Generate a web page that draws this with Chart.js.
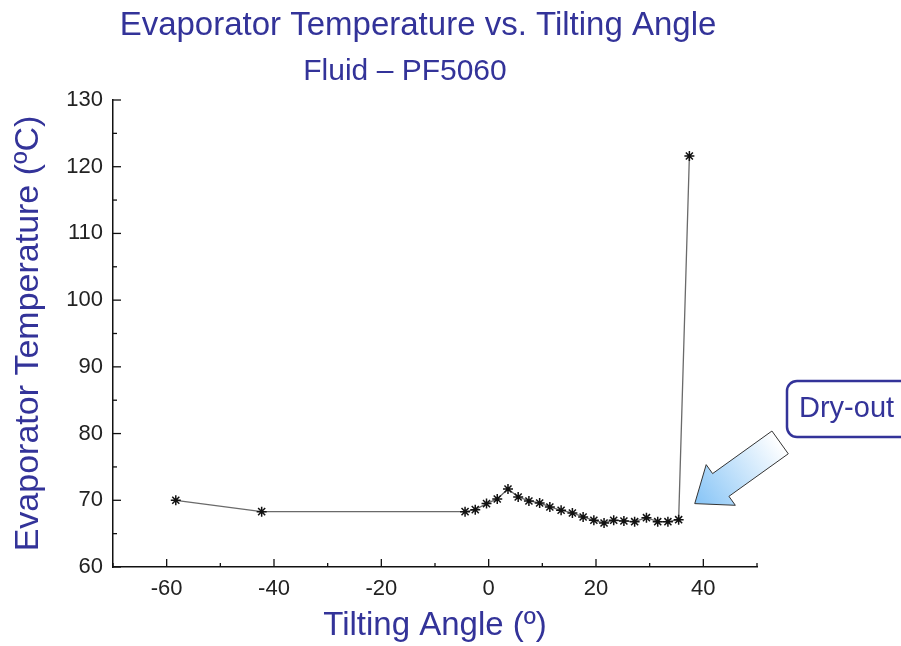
<!DOCTYPE html>
<html>
<head>
<meta charset="utf-8">
<script src="https://cdn.jsdelivr.net/npm/chart.js@4/dist/chart.umd.min.js"></script>
<style>
  body { margin: 0; background: #fff; }
  #wrap { width: 901px; height: 646px; position: relative; }
</style>
</head>
<body>
<div id="wrap"><canvas id="evap"></canvas></div>
<script>
// tilting angle (deg) and evaporator temperature (C)
const angles = [-58.3, -42.3, -4.4, -2.5, -0.4, 1.6, 3.6, 5.5, 7.5, 9.5, 11.4, 13.5, 15.6, 17.6, 19.6, 21.5, 23.3, 25.2, 27.2, 29.4, 31.5, 33.4, 35.4, 37.4];
const temps = [70.0, 68.3, 68.3, 68.6, 69.5, 70.2, 71.7, 70.5, 69.9, 69.6, 69.0, 68.5, 68.1, 67.5, 67.0, 66.6, 67.0, 66.9, 66.8, 67.4, 66.8, 66.8, 67.1, 121.6];

const xTicks = [-60, -40, -20, 0, 20, 40];
const yTicks = [60, 70, 80, 90, 100, 110, 120, 130];

const navy = "#333399";
const font = "'Liberation Sans', Arial, sans-serif";

// inward tick marks (major + minor), headings and the dry-out callout
const extras = {
    id: "extras",
    afterDraw(chart) {
        const ctx = chart.ctx;
        const xs = chart.scales.x, ys = chart.scales.y;
        const area = chart.chartArea;
        ctx.save();
        ctx.strokeStyle = "#111";
        ctx.lineWidth = 1.3;
        for (let v = -70; v <= 50; v += 10) {
            const px = xs.getPixelForValue(v);
            const len = xTicks.includes(v) ? 8 : 4;
            ctx.beginPath();
            ctx.moveTo(px, area.bottom);
            ctx.lineTo(px, area.bottom - len);
            ctx.stroke();
        }
        for (let v = 60; v <= 130; v += 5) {
            const py = ys.getPixelForValue(v);
            const len = yTicks.includes(v) ? 8 : 4;
            ctx.beginPath();
            ctx.moveTo(area.left, py);
            ctx.lineTo(area.left + len, py);
            ctx.stroke();
        }

        // headings
        ctx.fillStyle = navy;
        ctx.textAlign = "center";
        ctx.textBaseline = "middle";
        ctx.font = "33px " + font;
        ctx.fillText("Evaporator Temperature vs. Tilting Angle", 418, 26);
        ctx.font = "30px " + font;
        ctx.fillText("Fluid \u2013 PF5060", 405, 72);

        // dry-out box
        ctx.lineWidth = 2.5;
        ctx.strokeStyle = navy;
        ctx.beginPath();
        ctx.roundRect(787, 381, 130, 56, 10);
        ctx.fillStyle = "#fff";
        ctx.fill();
        ctx.stroke();
        ctx.fillStyle = navy;
        ctx.textAlign = "left";
        ctx.font = "29px " + font;
        ctx.fillText("Dry-out", 799, 409);

        // arrow pointing at the spike base
        const tx = xs.getPixelForValue(38.4), ty = ys.getPixelForValue(69.5);
        const dx = -0.813, dy = 0.583;       // tail -> tip direction
        const nx = 0.583, ny = 0.813;        // perpendicular
        const headLen = 32, headHalf = 25, shaftHalf = 14, total = 105;
        const bx = tx - dx * headLen, by = ty - dy * headLen;
        const cx = tx - dx * total, cy = ty - dy * total;
        const grad = ctx.createLinearGradient(tx, ty, cx, cy);
        grad.addColorStop(0, "#86c4f6");
        grad.addColorStop(1, "#ffffff");
        ctx.beginPath();
        ctx.moveTo(tx, ty);
        ctx.lineTo(bx + nx * headHalf, by + ny * headHalf);
        ctx.lineTo(bx + nx * shaftHalf, by + ny * shaftHalf);
        ctx.lineTo(cx + nx * shaftHalf, cy + ny * shaftHalf);
        ctx.lineTo(cx - nx * shaftHalf, cy - ny * shaftHalf);
        ctx.lineTo(bx - nx * shaftHalf, by - ny * shaftHalf);
        ctx.lineTo(bx - nx * headHalf, by - ny * headHalf);
        ctx.closePath();
        ctx.fillStyle = grad;
        ctx.fill();
        ctx.lineWidth = 1;
        ctx.strokeStyle = "#333";
        ctx.stroke();
        ctx.restore();
    }
};

new Chart(document.getElementById("evap"), {
    type: "scatter",
    data: {
        datasets: [{
            data: angles.map((a, i) => ({ x: a, y: temps[i] })),
            showLine: true,
            borderColor: "#6a6a6a",
            borderWidth: 1.3,
            pointStyle: "star",
            pointRadius: 5,
            pointBorderColor: "#111",
            pointBorderWidth: 1.5,
            pointBackgroundColor: "#111",
        }],
    },
    options: {
        responsive: true,
        maintainAspectRatio: false,
        animation: false,
        layout: { padding: { top: 100, right: 144, bottom: 0, left: 0 } },
        plugins: { legend: { display: false }, tooltip: { enabled: false } },
        scales: {
            x: {
                type: "linear",
                min: -70,
                max: 50,
                afterFit: (s) => { s.height = 79; },
                grid: { display: false, drawTicks: false },
                border: { display: true, color: "#111", width: 1.5 },
                ticks: {
                    stepSize: 10,
                    padding: 9,
                    color: "#222",
                    font: { family: font, size: 22 },
                    callback: (v) => (xTicks.includes(v) ? String(v) : ""),
                },
                title: {
                    display: true,
                    text: "Tilting Angle (\u00ba)",
                    color: navy,
                    font: { family: font, size: 33 },
                    padding: 0,
                },
            },
            y: {
                min: 60,
                max: 130,
                afterFit: (s) => { s.width = 113; },
                grid: { display: false, drawTicks: false },
                border: { display: true, color: "#111", width: 1.5 },
                ticks: {
                    stepSize: 5,
                    padding: 10,
                    color: "#222",
                    font: { family: font, size: 22 },
                    callback: (v) => (yTicks.includes(v) ? String(v) : ""),
                },
                title: {
                    display: true,
                    text: "Evaporator Temperature (\u00baC)",
                    color: navy,
                    font: { family: font, size: 34 },
                    padding: 8,
                },
            },
        },
    },
    plugins: [extras],
});
</script>
</body>
</html>
